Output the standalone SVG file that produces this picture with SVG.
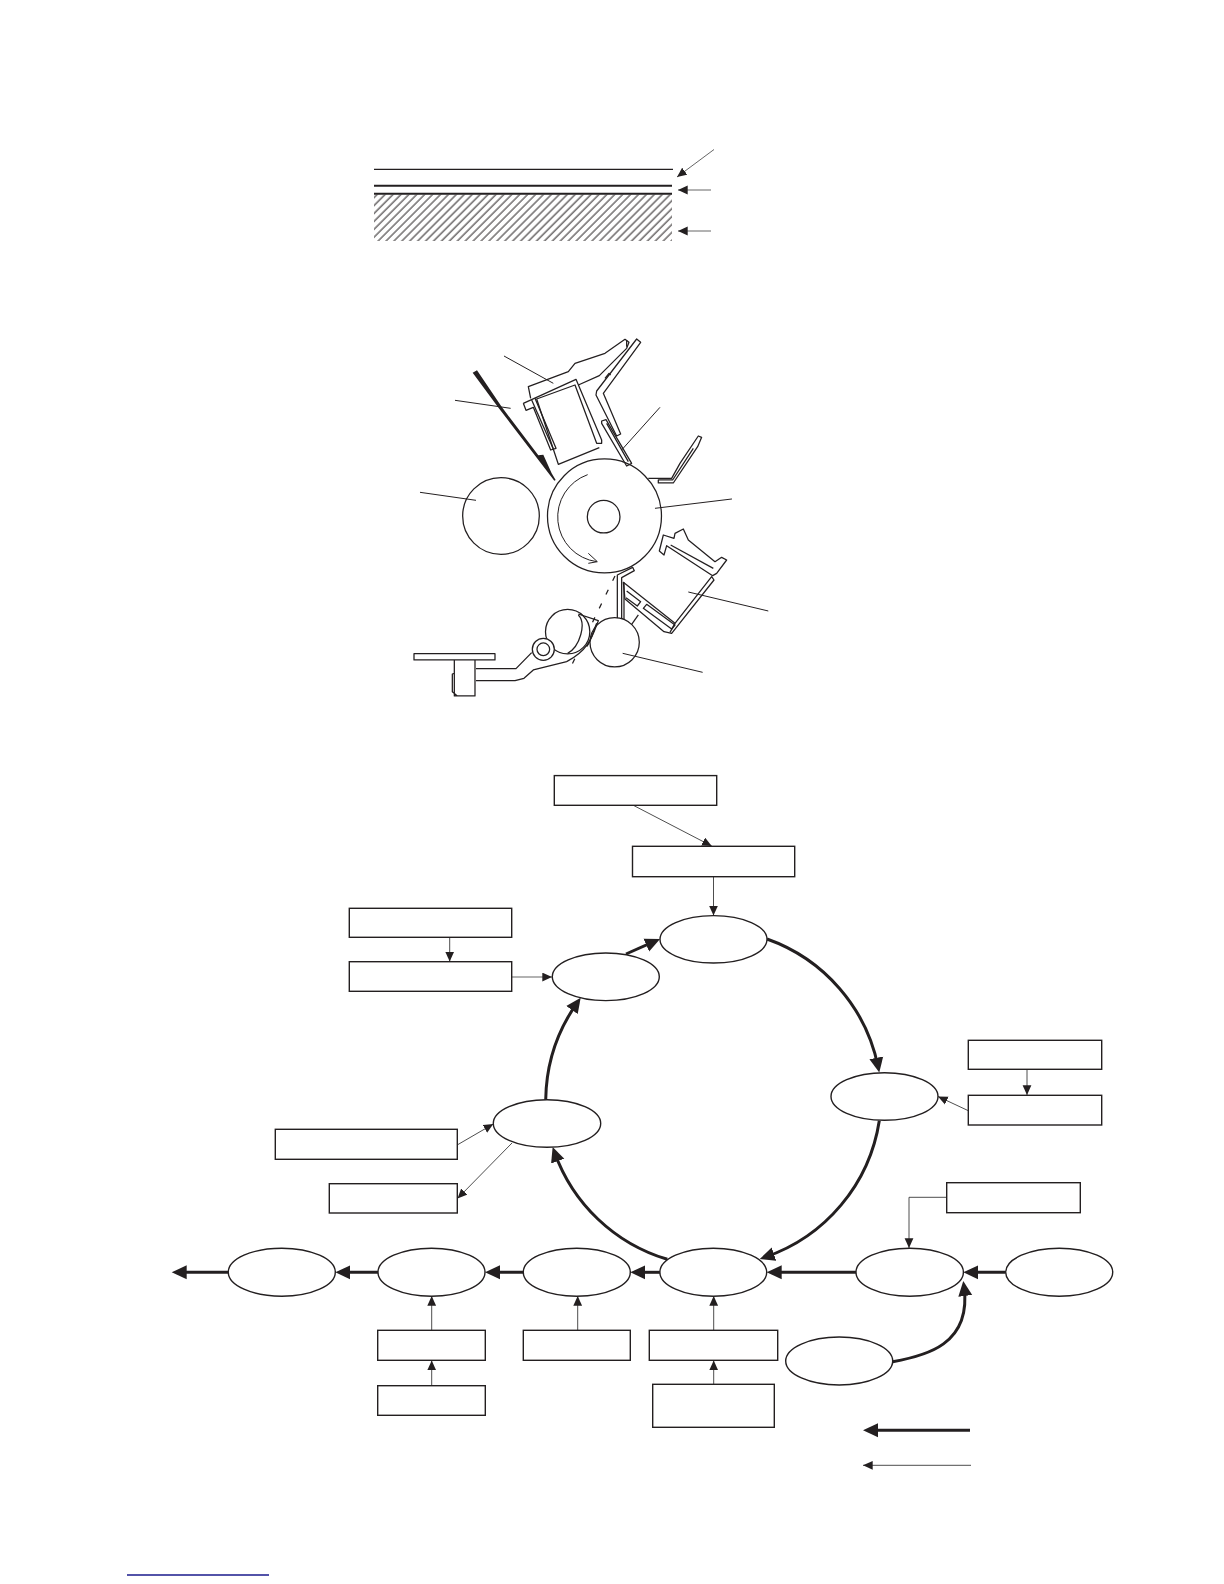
<svg xmlns="http://www.w3.org/2000/svg" width="1224" height="1584" viewBox="0 0 1224 1584">
<style>
.n{fill:#fff;stroke:#231f20;stroke-width:1.4}
.thick{fill:none;stroke:#231f20;stroke-width:3;marker-end:url(#big)}
.thin{fill:none;stroke:#3a3a3a;stroke-width:.9;marker-end:url(#small)}
.m{fill:none;stroke:#231f20;stroke-width:3.8;stroke-linejoin:round}
.mw{fill:#fff;stroke:#231f20;stroke-width:3.8;stroke-linejoin:round}
.l{fill:none;stroke:#231f20;stroke-width:3}
.p{fill:none;stroke:#231f20;stroke-width:1.2}
.a{fill:none;stroke:#555;stroke-width:.9;marker-end:url(#small)}
</style>
<defs>
<marker id="big" markerUnits="userSpaceOnUse" markerWidth="18" markerHeight="18" refX="9.5" refY="7.5" orient="auto"><path d="M0 .5L15 7.5L0 14.5Z" fill="#231f20"/></marker>
<marker id="small" markerUnits="userSpaceOnUse" markerWidth="12" markerHeight="12" refX="9.7" refY="4.5" orient="auto"><path d="M0 .1L9.7 4.5L0 8.9Z" fill="#231f20"/></marker>
<pattern id="hatch" width="5.6" height="5.6" patternUnits="userSpaceOnUse" patternTransform="rotate(45)"><line x1="1" y1="0" x2="1" y2="5.6" stroke="#231f20" stroke-width="1"/></pattern>
</defs>
<rect width="1224" height="1584" fill="#fff"/>

<g id="layers">
<line class="p" x1="374" y1="169.3" x2="673" y2="169.3"/>
<line x1="374" y1="185.7" x2="672" y2="185.7" stroke="#231f20" stroke-width="1.9"/>
<rect x="374" y="194.5" width="298" height="46.5" fill="url(#hatch)"/>
<line x1="374" y1="193.7" x2="672" y2="193.7" stroke="#231f20" stroke-width="1.9"/>
<line class="a" x1="714" y1="149.5" x2="677" y2="177"/>
<line class="a" x1="711" y1="190" x2="678" y2="190"/>
<line class="a" x1="711" y1="231" x2="678" y2="231"/>
</g>

<g id="mechanism-rollers" transform="translate(400 330) scale(.3333)">
<circle class="mw" cx="613.5" cy="558" r="171"/>
<circle class="mw" cx="611" cy="560" r="49"/>
<circle class="mw" cx="303" cy="558" r="115"/>
<path d="M563 434A135 135 0 0 0 590 695" fill="none" stroke="#231f20" stroke-width="3"/>
<path class="m" d="M745 445L815 445L840 400L895 318L905 322L893 350L820 459L775 459L775 450L818 450L880 355"/>
<path fill="#231f20" d="M218 128L231 121L306 232L415 376L430 374L455 430L467 450L463 452L296 234Z"/>
</g>

<g id="mechanism-charger" transform="translate(510 335) scale(.3333)">
<path class="m" d="M62 190L55 155L175 110L195 85L285 55L345 13L357 22L350 40L268 122L205 150"/>
<path class="m" d="M350 15L350 35"/>
<path class="m" d="M40 205L198 133L275 315L275 325L260 325L195 150L80 192L145 388L268 338"/>
<path class="m" d="M40 205L48 226L70 217L122 345L138 340L75 190"/>
<path class="m" d="M65 195L130 342"/>
<path class="m" d="M380 12L392 22L280 175L332 297L320 303L258 180L260 168Z"/>
<path class="m" d="M275 258L288 254L365 385L350 393L275 265Z"/>
<path class="m" d="M290 265L355 380M285 130L297 115L302 120"/>
</g>

<g id="mechanism-leaders" transform="translate(400 330) scale(.3333)">
<path class="l" d="M312 78L460 160M165 211L332 235M780 232L665 360M60 487L228 511M996 507L765 535"/>
</g>

<g id="mechanism-cleaner" transform="translate(600 525) scale(.3333)">
<path class="mw" d="M190 30L222 40L225 25L250 12L265 45L345 110L365 97L380 105L350 145L338 152L200 62L192 90L178 78Z"/>
<path class="m" d="M212 60L340 130"/>
<path class="mw" d="M70 172L225 295L335 155L342 165L215 325L192 320L75 222Z"/>
<path class="m" d="M225 295L210 322"/>
<path class="m" d="M80 198L122 230L112 243L78 218M140 238L225 300L215 312L130 250Z"/>
<path class="m" d="M115 270L95 298"/>
<path class="mw" d="M52 150L98 127L103 137L65 158L65 280L90 300L80 310L52 285Z"/>
<path class="m" d="M72 172L72 285"/>
</g>

<g id="mechanism-feed" transform="translate(400 510) scale(.3333)">
<path class="m" d="M565 130L592 155L565 160" style="stroke-width:3"/>
<path class="m" stroke-dasharray="16 30" d="M645 198L510 476"/>
<circle class="mw" cx="644" cy="397" r="74"/>
<circle class="mw" cx="503" cy="365" r="66.5"/>
<path class="m" d="M535 315C560 340 540 410 503 430M535 312L595 332C580 370 570 420 500 455L400 480L372 505L345 512L228 512"/>
<path class="m" d="M590 340C578 370 572 395 560 410"/>
<circle class="mw" cx="430" cy="418" r="33"/>
<circle class="mw" cx="430" cy="418" r="19"/>
<path class="m" d="M228 476L348 476L395 428"/>
<rect class="mw" x="42" y="431" width="243" height="19"/>
<path class="m" d="M163 450L163 558L225 558L225 450M163 490L157 492L157 545L172 558"/>
<path class="l" d="M865 246L1105 303M668 430L908 487"/>
</g>

<g id="connectors">
<line class="thin" x1="633.3" y1="805.3" x2="711.7" y2="846"/>
<line class="thin" x1="713.5" y1="877" x2="713.5" y2="915.5"/>
<line class="thin" x1="449.7" y1="937.5" x2="449.7" y2="961.5"/>
<line class="thin" x1="511.7" y1="977" x2="552" y2="977" style="stroke:#999;stroke-width:1.5"/>
<line class="thin" x1="1027" y1="1069.5" x2="1027" y2="1095"/>
<line class="thin" x1="968.3" y1="1110.7" x2="938" y2="1096.5"/>
<path class="thin" d="M946.7 1197.3H909V1248"/>
<line class="thin" x1="458" y1="1144.5" x2="493.3" y2="1124"/>
<line class="thin" x1="512" y1="1143" x2="457.5" y2="1198.5"/>
<line class="thin" x1="431.7" y1="1330" x2="431.7" y2="1296"/>
<line class="thin" x1="431.7" y1="1385.5" x2="431.7" y2="1360.5"/>
<line class="thin" x1="577.7" y1="1330" x2="577.7" y2="1296"/>
<line class="thin" x1="713.7" y1="1330" x2="713.7" y2="1296"/>
<line class="thin" x1="713.7" y1="1384" x2="713.7" y2="1360.5"/>
<line class="thick" x1="626" y1="954" x2="655" y2="941.2"/>
<path class="thick" d="M767 939A172 172 0 0 1 878.2 1067.2"/>
<path class="thick" d="M879.3 1120.7A172 172 0 0 1 765 1257.2"/>
<path class="thick" d="M667.3 1259.3A172 172 0 0 1 554.5 1152.2"/>
<path class="thick" d="M545.7 1099.7A172 172 0 0 1 577.5 1002.3"/>
<line class="thick" x1="1005.7" y1="1272.3" x2="968.8" y2="1272.3"/>
<line class="thick" x1="856" y1="1272.3" x2="772.2" y2="1272.3"/>
<line class="thick" x1="660" y1="1272.3" x2="635.8" y2="1272.3"/>
<line class="thick" x1="523.3" y1="1272.3" x2="490.5" y2="1272.3"/>
<line class="thick" x1="378" y1="1272.3" x2="340.8" y2="1272.3"/>
<line class="thick" x1="228.3" y1="1272.3" x2="177.2" y2="1272.3"/>
<path class="thick" d="M892.7 1361.7C925 1356 972 1345 964 1286.5"/>
<line class="thick" x1="970" y1="1430.3" x2="868.5" y2="1430.3"/>
<line class="thin" x1="971" y1="1465.3" x2="863" y2="1465.3"/>
</g>

<g id="box-1"><rect class="n" x="554.3" y="775.6" width="162.4" height="29.7"/></g>
<g id="box-2"><rect class="n" x="632.5" y="846.3" width="162.2" height="30.4"/></g>
<g id="box-3"><rect class="n" x="349.3" y="908.3" width="162.4" height="29"/></g>
<g id="box-4"><rect class="n" x="349.3" y="961.7" width="162.4" height="29.6"/></g>
<g id="box-5"><rect class="n" x="968.3" y="1040.3" width="133.4" height="29"/></g>
<g id="box-6"><rect class="n" x="968.3" y="1095.3" width="133.4" height="29.7"/></g>
<g id="box-7"><rect class="n" x="275.3" y="1129.3" width="182" height="30"/></g>
<g id="box-8"><rect class="n" x="329.3" y="1183.7" width="128" height="29.3"/></g>
<g id="box-9"><rect class="n" x="946.7" y="1182.7" width="133.6" height="30"/></g>
<g id="box-10"><rect class="n" x="377.7" y="1330.3" width="107.6" height="30"/></g>
<g id="box-11"><rect class="n" x="377.7" y="1385.7" width="107.6" height="29.6"/></g>
<g id="box-12"><rect class="n" x="523.3" y="1330.3" width="107" height="30"/></g>
<g id="box-13"><rect class="n" x="649.3" y="1330.3" width="128.4" height="30"/></g>
<g id="box-14"><rect class="n" x="652.7" y="1384.3" width="121.6" height="43"/></g>

<g id="node-1"><ellipse class="n" cx="713.5" cy="939.3" rx="53.5" ry="23.7"/></g>
<g id="node-2"><ellipse class="n" cx="605.8" cy="976.8" rx="53.5" ry="23.8"/></g>
<g id="node-3"><ellipse class="n" cx="884.5" cy="1096.5" rx="53.5" ry="23.8"/></g>
<g id="node-4"><ellipse class="n" cx="547" cy="1123.5" rx="53.7" ry="23.8"/></g>
<g id="node-5"><ellipse class="n" cx="713.3" cy="1272.2" rx="53.4" ry="24"/></g>
<g id="node-6"><ellipse class="n" cx="576.8" cy="1272.2" rx="53.5" ry="24"/></g>
<g id="node-7"><ellipse class="n" cx="431.5" cy="1272.2" rx="53.5" ry="24"/></g>
<g id="node-8"><ellipse class="n" cx="281.8" cy="1272.2" rx="53.5" ry="24"/></g>
<g id="node-9"><ellipse class="n" cx="909.7" cy="1272.2" rx="53.7" ry="24"/></g>
<g id="node-10"><ellipse class="n" cx="1059.2" cy="1272.2" rx="53.5" ry="24"/></g>
<g id="node-11"><ellipse class="n" cx="839.2" cy="1361" rx="53.5" ry="24"/></g>

<line id="footer-rule" x1="127" y1="1575" x2="269" y2="1575" stroke="#1a1a8c" stroke-width="1.3"/>
</svg>
